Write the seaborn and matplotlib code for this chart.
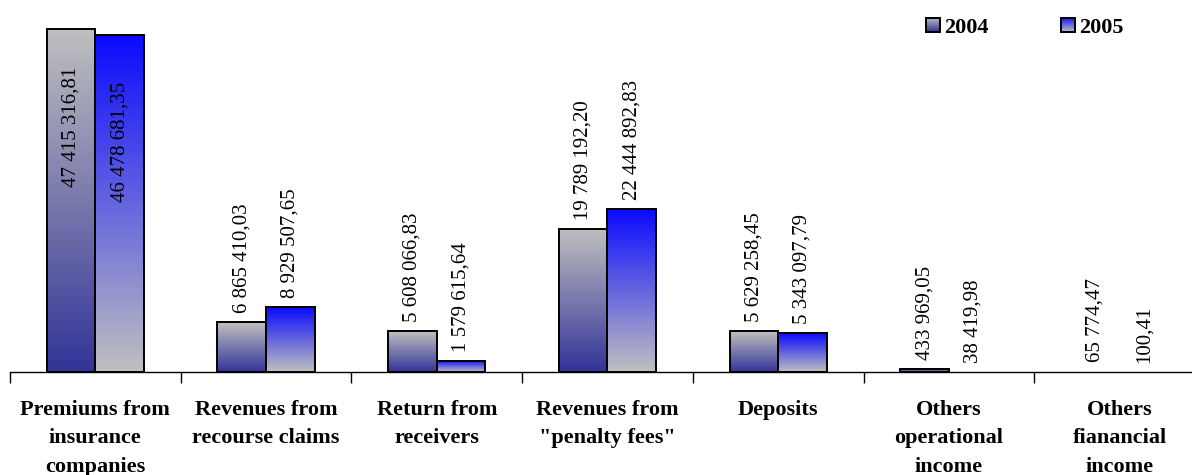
import numpy as np
import pandas as pd
import seaborn as sns
import matplotlib.pyplot as plt
from matplotlib.colors import LinearSegmentedColormap
from matplotlib.patches import Patch

# data
categories = ["Premiums from\ninsurance\ncompanies", "Revenues from\nrecourse claims",
              "Return from\nreceivers", "Revenues from\n\"penalty fees\"", "Deposits",
              "Others\noperational\nincome", "Others\nfianancial\nincome"]
years = ["2004", "2005"]
values_2004 = [47415316.81, 6865410.03, 5608066.83, 19789192.20, 5629258.45, 433969.05, 65774.47]
values_2005 = [46478681.35, 8929507.65, 1579615.64, 22444892.83, 5343097.79, 38419.98, 100.41]

df = pd.DataFrame({
    "category": categories * 2,
    "year": [years[0]] * len(categories) + [years[1]] * len(categories),
    "value": values_2004 + values_2005,
})

sns.set_theme(style="white")
plt.rcParams['font.family'] = ['Liberation Serif', 'DejaVu Serif']
plt.rcParams['text.color'] = 'black'
plt.rcParams['xtick.color'] = 'black'

fig = plt.figure(figsize=(11.92, 4.75), dpi=100)
ax = fig.add_axes([10 / 1192, 103 / 475, 1195 / 1192, 362 / 475])

sns.barplot(data=df, x="category", y="value", hue="year", order=categories,
            palette=["#8080b0", "#7070f0"], width=0.57, ax=ax, legend=False,
            edgecolor="black", linewidth=1.4, errorbar=None)

# vertical gradient fill for each bar
cmaps = {
    "2004": LinearSegmentedColormap.from_list("g04", ["#333399", "#c0c0c0"]),
    "2005": LinearSegmentedColormap.from_list("g05", ["#c0c0c0", "#0a0aff"]),
}
grad = np.linspace(0, 1, 256).reshape(-1, 1)
for container, year in zip(ax.containers, years):
    for bar in container:
        x0, w, h = bar.get_x(), bar.get_width(), bar.get_height()
        if h > 1e5:
            ax.imshow(grad, cmap=cmaps[year], origin="lower", aspect="auto",
                      extent=[x0, x0 + w, 0, h], zorder=1.5, interpolation="bilinear")
        else:
            bar.set_edgecolor("none")  # too small to show
        bar.set_facecolor("none")
        bar.set_zorder(2)

ax.set_xlim(-0.5, len(categories) - 0.5)
ax.set_ylim(0, 50e6)


def fmt(v):
    return f"{v:,.2f}".replace(",", " ").replace(".", ",")


# value labels (the two tall bars get them inside)
inside_offset = [-27.5, -33.5]
for container, vals, off in zip(ax.containers, [values_2004, values_2005], inside_offset):
    for bar, v in zip(container, vals):
        cx = bar.get_x() + bar.get_width() / 2
        if v > 40e6:
            ax.annotate(fmt(v), (cx, v), xytext=(0, off), textcoords="offset points",
                        rotation=90, ha="center", va="top", fontsize=15, zorder=3)
        else:
            ax.annotate(fmt(v), (cx, v), xytext=(0, 6.5), textcoords="offset points",
                        rotation=90, ha="center", va="bottom", fontsize=15, zorder=3)

# axes styling
for s in ["top", "left", "right"]:
    ax.spines[s].set_visible(False)
ax.spines["bottom"].set_color("black")
ax.spines["bottom"].set_linewidth(1.0)
ax.set_yticks([])
ax.set_xlabel("")
ax.set_ylabel("")
ax.set_xticks(range(len(categories)))
ax.set_xticklabels(categories, fontsize=16, fontweight="bold", linespacing=1.56)
ax.set_xticks(np.arange(-0.5, len(categories), 1), minor=True)
ax.tick_params(axis="x", which="major", length=0, pad=20)
ax.tick_params(axis="x", which="minor", length=8, width=1, color="black",
               direction="out", bottom=True)

handles = [Patch(facecolor="none", edgecolor="black", linewidth=1.4),
           Patch(facecolor="none", edgecolor="black", linewidth=1.4)]
leg = fig.legend(handles, years, loc="upper left", bbox_to_anchor=(906 / 1192, 1 + 2 / 475),
                 ncol=2, frameon=False, handlelength=0.62, handleheight=0.62,
                 handletextpad=0.2, columnspacing=3.25,
                 prop={"family": ["Liberation Serif"], "weight": "bold", "size": 16})

# gradient inside the legend squares
fig.canvas.draw()
W, H = fig.bbox.width, fig.bbox.height
for patch, year in zip(leg.get_patches(), years):
    bb = patch.get_window_extent()
    lax = fig.add_axes([bb.x0 / W, bb.y0 / H, bb.width / W, bb.height / H], zorder=5)
    lax.imshow(grad, cmap=cmaps[year], origin="lower", aspect="auto")
    lax.set_xticks([])
    lax.set_yticks([])
    for sp in lax.spines.values():
        sp.set_color("black")
        sp.set_linewidth(1.4)

fig.savefig("out.png", dpi=100)
